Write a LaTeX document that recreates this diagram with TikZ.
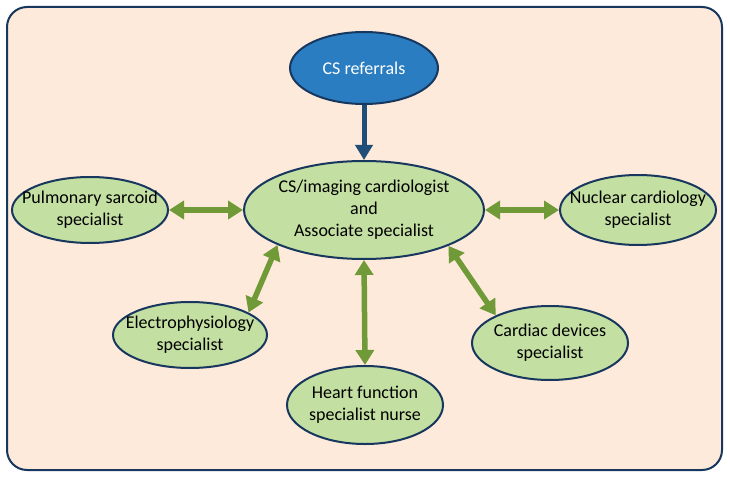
\documentclass[tikz,border=0pt]{standalone}
\usepackage{fontspec}
\setmainfont{Carlito}
\usetikzlibrary{shapes.geometric,arrows.meta}
\definecolor{bgpeach}{HTML}{FDEADA}
\definecolor{navy}{HTML}{17375E}
\definecolor{gfill}{HTML}{C4DFA2}
\definecolor{garrow}{HTML}{6F9A37}
\definecolor{bfill}{HTML}{2A7DC1}
\definecolor{barrow}{HTML}{1F4E79}
\tikzset{
  ell/.style={ellipse, draw=navy, line width=2pt, fill=gfill, inner sep=0pt},
  txt/.style={align=center, font=\fontsize{18}{22}\selectfont, text=black, inner sep=0pt},
  garr/.style={draw=garrow, line width=5.5pt, {Triangle[length=15pt,width=18pt]}-{Triangle[length=15pt,width=18pt]}},
  barr/.style={draw=barrow, line width=5pt, -{Triangle[length=15pt,width=17pt]}}
}
\begin{document}
\begin{tikzpicture}[x=1pt,y=-1pt]
\useasboundingbox (0,0) rectangle (730,478);
\draw[navy, line width=2pt, fill=bgpeach, rounded corners=20pt] (7,7) rectangle (722,470);

\node[ell, fill=bfill, minimum width=148pt, minimum height=72pt] (cs) at (364,68) {};
\node[txt, text=white] (cs-t) at (cs) {CS referrals};

\node[ell, minimum width=240pt, minimum height=98pt] (cen) at (364,210) {};
\node[txt] (cen-t) at (cen) {CS/imaging cardiologist\\and\\Associate specialist};

\node[ell, minimum width=156pt, minimum height=66pt] (pul) at (90,210) {};
\node[txt] (pul-t) at (pul) {Pulmonary sarcoid\\specialist};

\node[ell, minimum width=156pt, minimum height=70pt] (nuc) at (638,210) {};
\node[txt] (nuc-t) at (nuc) {Nuclear cardiology\\specialist};

\node[ell, minimum width=154pt, minimum height=66pt] (ele) at (190,335) {};
\node[txt] (ele-t) at (ele) {Electrophysiology\\specialist};

\node[ell, minimum width=156pt, minimum height=74pt] (car) at (550,343) {};
\node[txt] (car-t) at (car) {Cardiac devices\\specialist};

\node[ell, minimum width=156pt, minimum height=78pt] (hea) at (365,405) {};
\node[txt] (hea-t) at (hea) {Heart function\\specialist nurse};

\draw[barr] (cs.south) -- (cen.north);
\draw[garr] (pul.east) -- (cen.west);
\draw[garr] (cen.east) -- (nuc.west);
\draw[garr] (cen.202.6) -- (ele.21.8);
\draw[garr] (cen.337.6) -- (car.153.8);
\draw[garr] (cen.south) -- (hea.north);
\end{tikzpicture}
\end{document}
